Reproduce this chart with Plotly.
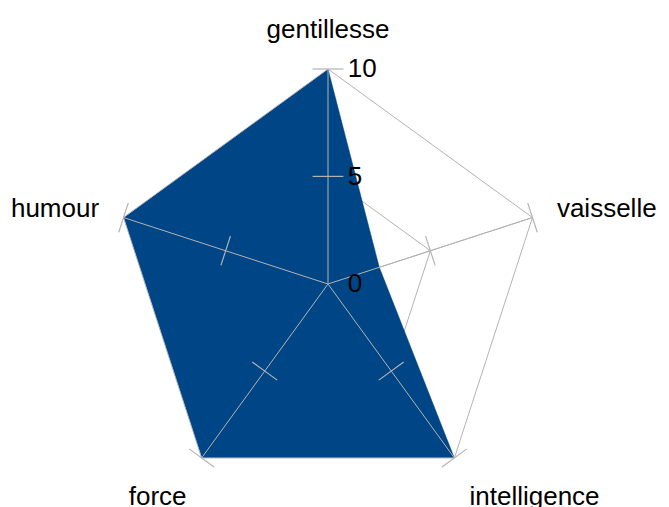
import plotly.graph_objects as go

categories = ["gentillesse", "vaisselle", "intelligence", "force", "humour"]
values = [10, 2.5, 10, 10, 10]
radial_ticks = [0, 5, 10]
r_max = 10

FILL = "#004586"
GRID = "#b3b3b3"
FONT = "Liberation Sans, Arial, sans-serif"

fig = go.Figure()
fig.add_trace(go.Scatterpolar(
    r=values + values[:1],
    theta=categories + categories[:1],
    mode="lines",
    fill="toself",
    fillcolor=FILL,
    line=dict(color=FILL, width=0.5),
    hoverinfo="skip",
    showlegend=False,
))

# spokes drawn above the filled area
for c in categories:
    fig.add_trace(go.Scatterpolar(
        r=[0, r_max], theta=[c, c], mode="lines",
        line=dict(color=GRID, width=1),
        hoverinfo="skip", showlegend=False,
    ))

# small crossing tick marks on every spoke
tick_r, tick_t, tick_a = [], [], []
for i, c in enumerate(categories):
    for rv in radial_ticks:
        tick_r.append(rv)
        tick_t.append(c)
        tick_a.append(i * 360 / len(categories))
fig.add_trace(go.Scatterpolar(
    r=tick_r, theta=tick_t, mode="markers",
    marker=dict(symbol="line-ew", size=22, angle=tick_a,
                line=dict(color=GRID, width=1.2)),
    hoverinfo="skip", showlegend=False, cliponaxis=False,
))

fig.update_layout(
    width=669, height=507,
    margin=dict(l=0, r=0, t=0, b=0),
    paper_bgcolor="white",
    plot_bgcolor="white",
    font=dict(family=FONT, size=26, color="black"),
    polar=dict(
        domain=dict(x=[105/669, 535/669], y=[1-491/507, 1-61/507]),
        bgcolor="white",
        gridshape="linear",
        radialaxis=dict(
            range=[-0.01, r_max], tickvals=radial_ticks, ticktext=[str(v) for v in radial_ticks],
            angle=90, tickangle=90, showline=False,
            gridcolor=GRID, gridwidth=1,
            ticks="outside", ticklen=14, tickcolor="rgba(0,0,0,0)",
            layer="above traces",
            tickfont=dict(size=26, color="black"),
        ),
        angularaxis=dict(
            direction="clockwise", rotation=90,
            showline=True, linecolor=GRID, linewidth=1,
            gridcolor=GRID, gridwidth=1, layer="above traces",
            ticks="outside", ticklen=20, tickcolor="rgba(0,0,0,0)",
            tickfont=dict(size=26, color="black"),
        ),
    ),
)

fig.write_html("out.html")
